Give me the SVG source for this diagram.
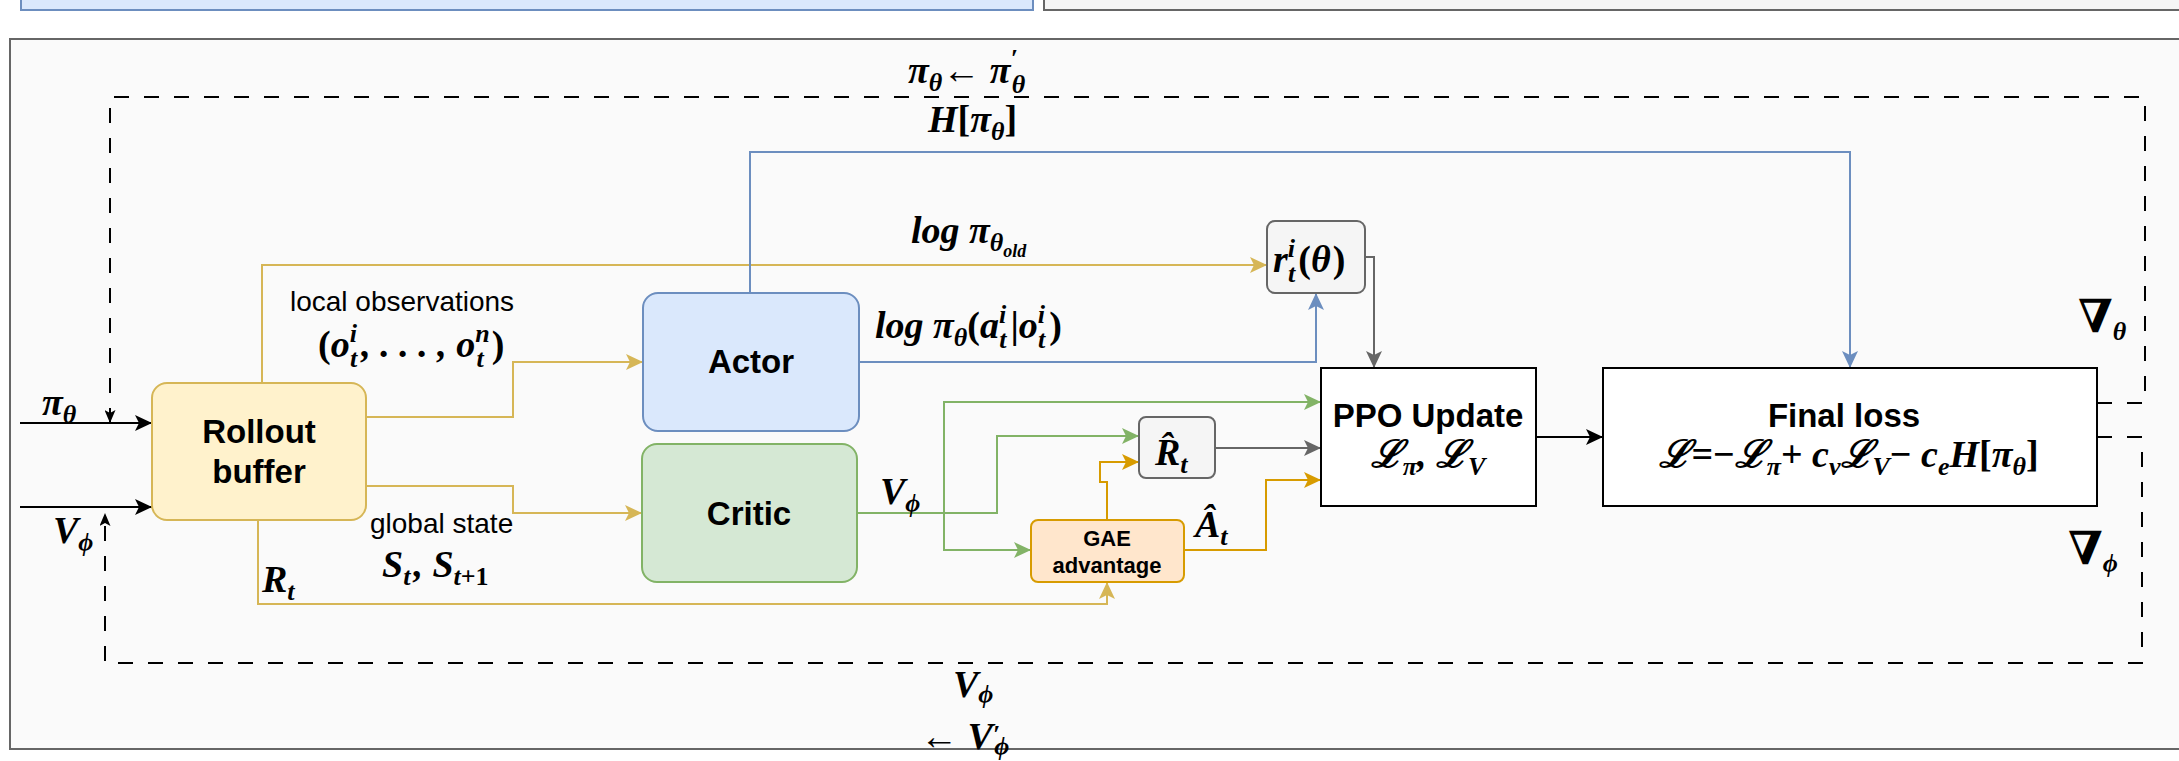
<svg xmlns="http://www.w3.org/2000/svg" width="2179" height="761" viewBox="0 0 2179 761">
  <defs>
    <style>
      .t { font-family: "Liberation Sans", Arial, sans-serif; font-weight: bold; font-size: 33px; fill: #000; text-anchor: middle; }
      .tg { font-family: "Liberation Sans", Arial, sans-serif; font-weight: bold; font-size: 22px; fill: #000; text-anchor: middle; }
      .lbl { font-family: "Liberation Sans", Arial, sans-serif; font-size: 28px; fill: #000; }
      .m { font-family: "Liberation Serif", "DejaVu Serif", serif; font-style: italic; font-weight: bold; font-size: 38px; fill: #000; }
      .up { font-style: normal; }
      .s { font-size: 26px; }
      .ss { font-size: 18px; }
      .nab { font-size: 46px; }
      .e { fill: none; stroke-width: 2; }
      .dash { fill: none; stroke: #000; stroke-width: 2; stroke-dasharray: 15 15; }
    </style>
    <marker id="ay" viewBox="0 0 17 16" refX="17" refY="8" markerWidth="17" markerHeight="16" markerUnits="userSpaceOnUse" orient="auto"><path d="M0,0 L17,8 L0,16 L4,8 Z" fill="#d6b656"/></marker>
    <marker id="ab" viewBox="0 0 17 16" refX="17" refY="8" markerWidth="17" markerHeight="16" markerUnits="userSpaceOnUse" orient="auto"><path d="M0,0 L17,8 L0,16 L4,8 Z" fill="#6c8ebf"/></marker>
    <marker id="ag" viewBox="0 0 17 16" refX="17" refY="8" markerWidth="17" markerHeight="16" markerUnits="userSpaceOnUse" orient="auto"><path d="M0,0 L17,8 L0,16 L4,8 Z" fill="#666666"/></marker>
    <marker id="agr" viewBox="0 0 17 16" refX="17" refY="8" markerWidth="17" markerHeight="16" markerUnits="userSpaceOnUse" orient="auto"><path d="M0,0 L17,8 L0,16 L4,8 Z" fill="#82b366"/></marker>
    <marker id="ao" viewBox="0 0 17 16" refX="17" refY="8" markerWidth="17" markerHeight="16" markerUnits="userSpaceOnUse" orient="auto"><path d="M0,0 L17,8 L0,16 L4,8 Z" fill="#d79b00"/></marker>
    <marker id="ak" viewBox="0 0 17 16" refX="17" refY="8" markerWidth="17" markerHeight="16" markerUnits="userSpaceOnUse" orient="auto"><path d="M0,0 L17,8 L0,16 L4,8 Z" fill="#000"/></marker>
    <marker id="aks" viewBox="0 0 13 11" refX="13" refY="5.5" markerWidth="13" markerHeight="11" markerUnits="userSpaceOnUse" orient="auto"><path d="M0,0 L13,5.5 L0,11 L3,5.5 Z" fill="#000"/></marker>
  </defs>

  <!-- panels above, cut by the top edge -->
  <rect x="21" y="-30" width="1012" height="40" fill="#dae8fc" stroke="#6c8ebf" stroke-width="2"/>
  <rect x="1044" y="-30" width="1200" height="40" fill="#f5f5f5" stroke="#666666" stroke-width="2"/>

  <!-- training loop frame -->
  <rect x="10" y="39" width="2200" height="710" fill="#fafafa" stroke="#666666" stroke-width="2"/>

  <g id="connectors">
    <!-- rollout buffer outputs -->
    <path class="e" stroke="#d6b656" d="M262,383 V265 H1267" marker-end="url(#ay)"/>
    <path class="e" stroke="#d6b656" d="M366,417 H513 V362 H643" marker-end="url(#ay)"/>
    <path class="e" stroke="#d6b656" d="M366,486 H513 V513 H642" marker-end="url(#ay)"/>
    <path class="e" stroke="#d6b656" d="M258,520 V604 H1107 V582" marker-end="url(#ay)"/>
    <!-- actor outputs -->
    <path class="e" stroke="#6c8ebf" d="M859,362 H1316 V293" marker-end="url(#ab)"/>
    <path class="e" stroke="#6c8ebf" d="M750,293 V152 H1850 V368" marker-end="url(#ab)"/>
    <!-- ratio and return into PPO update -->
    <path class="e" stroke="#666666" d="M1365,257 H1374 V368" marker-end="url(#ag)"/>
    <path class="e" stroke="#666666" d="M1215,448 H1321" marker-end="url(#ag)"/>
    <!-- critic outputs -->
    <path class="e" stroke="#82b366" d="M857,513 H944 V402 H1321" marker-end="url(#agr)"/>
    <path class="e" stroke="#82b366" d="M857,513 H944 V550 H1031" marker-end="url(#agr)"/>
    <path class="e" stroke="#82b366" d="M857,513 H997 V436 H1139" marker-end="url(#agr)"/>
    <!-- advantage outputs -->
    <path class="e" stroke="#d79b00" d="M1107,520 V482 H1100 V462 H1139" marker-end="url(#ao)"/>
    <path class="e" stroke="#d79b00" d="M1184,550 H1266 V480 H1321" marker-end="url(#ao)"/>
    <!-- PPO update to final loss -->
    <path class="e" stroke="#000" d="M1536,437 H1603" marker-end="url(#ak)"/>
    <!-- policy and value inputs -->
    <path class="e" stroke="#000" d="M20,423 H152" marker-end="url(#ak)"/>
    <path class="e" stroke="#000" d="M20,507 H152" marker-end="url(#ak)"/>
    <!-- gradient feedback loops -->
    <path class="dash" d="M2097,403 H2145 V97 H110 V423" marker-end="url(#aks)"/>
    <path class="dash" d="M2097,437 H2142 V663 H105 V513" marker-end="url(#aks)"/>
  </g>

  <g id="rollout-buffer">
    <rect x="152" y="383" width="214" height="137" rx="15" fill="#fff2cc" stroke="#d6b656" stroke-width="2"/>
    <text class="t" x="259" y="443">Rollout</text>
    <text class="t" x="259" y="483">buffer</text>
  </g>

  <g id="actor">
    <rect x="643" y="293" width="216" height="138" rx="15" fill="#dae8fc" stroke="#6c8ebf" stroke-width="2"/>
    <text class="t" x="751" y="373">Actor</text>
  </g>

  <g id="critic">
    <rect x="642" y="444" width="215" height="138" rx="15" fill="#d5e8d4" stroke="#82b366" stroke-width="2"/>
    <text class="t" x="749" y="525">Critic</text>
  </g>

  <g id="ratio">
    <rect x="1267" y="221" width="98" height="72" rx="8" fill="#f5f5f5" stroke="#666666" stroke-width="2"/>
    <text class="m" x="1273" y="272" font-size="40">r<tspan class="s" dy="-15">i</tspan><tspan class="s" dx="-7" dy="25">t</tspan><tspan class="up" dx="3" dy="-10">(</tspan>θ<tspan class="up" dx="2">)</tspan></text>
  </g>

  <g id="return">
    <rect x="1139" y="417" width="76" height="61" rx="7" fill="#f5f5f5" stroke="#666666" stroke-width="2"/>
    <text class="m" x="1155" y="465">R̂<tspan class="s" dy="8">t</tspan></text>
  </g>

  <g id="gae">
    <rect x="1031" y="520" width="153" height="62" rx="7" fill="#ffe6cc" stroke="#d79b00" stroke-width="2"/>
    <text class="tg" x="1107" y="546">GAE</text>
    <text class="tg" x="1107" y="573">advantage</text>
  </g>

  <g id="ppo-update">
    <rect x="1321" y="368" width="215" height="138" fill="#fff" stroke="#000" stroke-width="2"/>
    <text class="t" x="1428" y="427">PPO Update</text>
    <text class="m" x="1428" y="467" text-anchor="middle">ℒ<tspan class="s" dy="8">π</tspan><tspan dy="-8">, ℒ</tspan><tspan class="s" dy="8">V</tspan></text>
  </g>

  <g id="final-loss">
    <rect x="1603" y="368" width="494" height="138" fill="#fff" stroke="#000" stroke-width="2"/>
    <text class="t" x="1844" y="427">Final loss</text>
    <text class="m" x="1849" y="467" text-anchor="middle" font-size="41">ℒ<tspan class="up">=−</tspan>ℒ<tspan class="s" dy="8">π</tspan><tspan class="up" dy="-8">+ </tspan>c<tspan class="s" dy="8">v</tspan><tspan dy="-8">ℒ</tspan><tspan class="s" dy="8">V</tspan><tspan class="up" dy="-8">− </tspan>c<tspan class="s" dy="8">e</tspan><tspan dy="-8">H</tspan><tspan class="up">[</tspan>π<tspan class="s" dy="8">θ</tspan><tspan class="up" dy="-8">]</tspan></text>
  </g>

  <g id="labels">
    <text class="lbl" x="290" y="311">local observations</text>
    <text class="m" x="318" y="357"><tspan class="up">(</tspan>o<tspan class="s" dy="-15">i</tspan><tspan class="s" dx="-7" dy="25">t</tspan><tspan dx="4" dy="-10">, . . . , o</tspan><tspan class="s" dy="-15">n</tspan><tspan class="s" dx="-13" dy="25">t</tspan><tspan class="up" dx="8" dy="-10">)</tspan></text>
    <text class="lbl" x="370" y="533">global state</text>
    <text class="m" x="382" y="577">S<tspan class="s" dy="8">t</tspan><tspan dx="3" dy="-8">, S</tspan><tspan class="s" dy="8">t<tspan class="up">+1</tspan></tspan></text>
    <text class="m" x="262" y="592">R<tspan class="s" dy="8">t</tspan></text>
    <text class="m" x="42" y="415">π<tspan class="s" dy="8">θ</tspan></text>
    <text class="m" x="53" y="543">V<tspan class="s" dy="8">ϕ</tspan></text>
    <text class="m" x="911" y="243">log π<tspan class="s" dy="8">θ</tspan><tspan class="ss" dy="6">old</tspan></text>
    <text class="m" x="875" y="338" font-size="40">log π<tspan class="s" dy="8">θ</tspan><tspan class="up" dy="-8">(</tspan>a<tspan class="s" dy="-15">i</tspan><tspan class="s" dx="-7" dy="25">t</tspan><tspan class="up" dx="4" dy="-10">|</tspan>o<tspan class="s" dy="-15">i</tspan><tspan class="s" dx="-7" dy="25">t</tspan><tspan class="up" dx="4" dy="-10">)</tspan></text>
    <text class="m" x="880" y="504">V<tspan class="s" dy="8">ϕ</tspan></text>
    <text class="m" x="1195" y="537">Â<tspan class="s" dy="8">t</tspan></text>
    <text class="m" x="2078" y="332"><tspan class="up nab">∇</tspan><tspan class="s" dy="8">θ</tspan></text>
    <text class="m" x="2068" y="564"><tspan class="up nab">∇</tspan><tspan class="s" dy="8">ϕ</tspan></text>
    <text class="m" x="908" y="83" font-size="40">π<tspan class="s" dy="8">θ</tspan><tspan class="up" dy="-8">← </tspan>π<tspan class="s" dy="-16">′</tspan><tspan class="s" dx="-6" dy="26">θ</tspan></text>
    <text class="m" x="928" y="132">H<tspan class="up">[</tspan>π<tspan class="s" dy="8">θ</tspan><tspan class="up" dy="-8">]</tspan></text>
    <!-- value update label, wrapped over two lines -->
    <text class="m" x="953" y="697">V<tspan class="s" dy="6">ϕ</tspan><tspan class="up" x="920" dy="46">← </tspan>V<tspan class="s" dy="-6">′</tspan><tspan class="s" dx="-6" dy="12">ϕ</tspan></text>
  </g>
</svg>
